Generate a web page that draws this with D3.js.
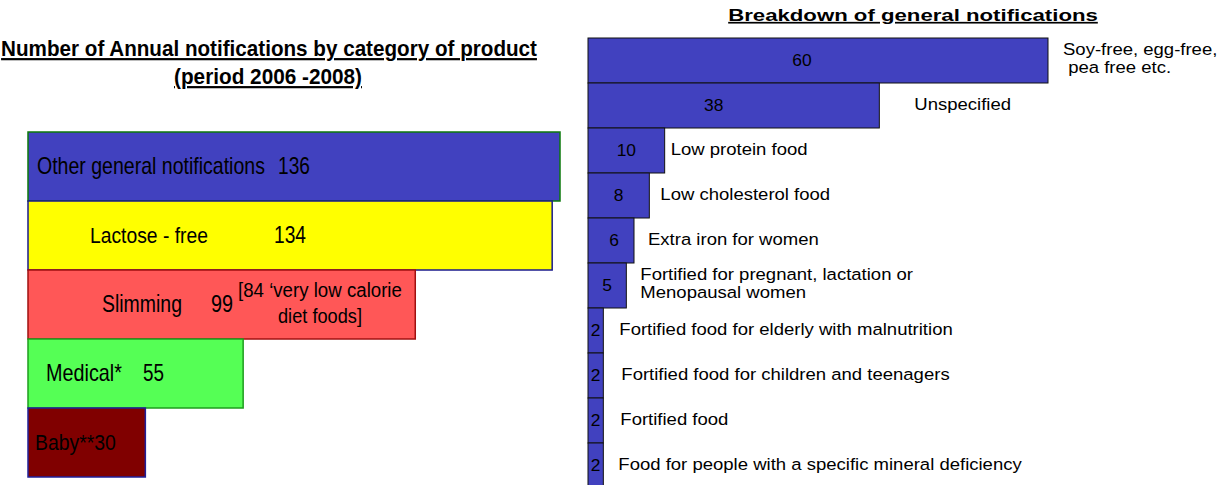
<!DOCTYPE html>
<html>
<head>
<meta charset="utf-8">
<script src="https://cdn.jsdelivr.net/npm/d3@7"></script>
<style>
  html, body { margin: 0; padding: 0; background: #fff; }
  svg { display: block; }
  text { font-family: "Liberation Sans", Arial, sans-serif; fill: #000; }
</style>
</head>
<body>
<script>
// ---------- data ----------
const leftCategories = ["Other general notifications", "Lactose - free", "Slimming", "Medical*", "Baby**"];
const leftValues = [136, 134, 99, 55, 30];
const slimmingNote = ["[84 \u2018very low calorie", "diet foods]"];

const rightCategories = [
  ["Soy-free, egg-free,", " pea free etc."],
  ["Unspecified"],
  ["Low protein food"],
  ["Low cholesterol food"],
  ["Extra iron for women"],
  ["Fortified for pregnant, lactation or", "Menopausal women"],
  ["Fortified food for elderly with malnutrition"],
  ["Fortified food for children and teenagers"],
  ["Fortified food"],
  ["Food for people with a specific mineral deficiency"]
];
const rightValues = [60, 38, 10, 8, 6, 5, 2, 2, 2, 2];

const leftTitle = ["Number of Annual notifications by category of product", "(period 2006 -2008)"];
const rightTitle = "Breakdown of general notifications";

// ---------- styles / layout ----------
const leftFills = ["#4141BF", "#FFFF00", "#FF5757", "#55FF55", "#800000"];
const leftStrokes = ["#0B7A0B", "#1A1A8C", "#A01010", "#1E9E1E", "#20209A"];
const leftNameX = [37, 90, 102, 46, 35];
const leftNameW = [228, 118, 80, 76, 81];   // last one: name and value together
const leftValX = [278, 274, 211, 143, null];
const leftValW = [32, 32, 22, 21, null];
const rightLabelGap = [15, 35, 6, 11, 14, 14, 16, 18, 17, 15];
const rightValueShift = [-16, -20, 0, 0, 3, 0, 0, 0, 0, 0];
const STRETCH = 1.09;

const W = 1220, H = 485;
const svg = d3.select("body").append("svg").attr("width", W).attr("height", H);

// narrow text: horizontally scaled to a target width
function narrowText(g, str, x, y, w, size, weight, anchor) {
  const t = g.append("text")
    .attr("font-size", size)
    .attr("font-weight", weight || "normal")
    .attr("text-anchor", anchor || "start")
    .text(str);
  const natural = t.node().getComputedTextLength();
  const s = natural > 0 ? w / natural : 1;
  t.attr("transform", `translate(${x},${y}) scale(${s},1)`);
  return t;
}

// ---------- left chart ----------
const xL = d3.scaleLinear().domain([0, d3.max(leftValues)]).range([28, 560]);
const yL = d3.scaleBand().domain(leftCategories).range([132, 477]).padding(0);

const gL = svg.append("g");
gL.selectAll("rect").data(leftCategories).join("rect")
  .attr("x", xL(0))
  .attr("y", d => yL(d))
  .attr("width", (d, i) => xL(leftValues[i]) - xL(0))
  .attr("height", yL.bandwidth())
  .attr("fill", (d, i) => leftFills[i])
  .attr("stroke", (d, i) => leftStrokes[i])
  .attr("stroke-width", 1.5);

leftCategories.forEach((d, i) => {
  const by = yL(d) + yL.bandwidth() / 2 + 7;
  if (leftValX[i] === null) {
    narrowText(gL, d + leftValues[i], leftNameX[i], by, leftNameW[i], 23);
  } else {
    narrowText(gL, d, leftNameX[i], by, leftNameW[i], 23);
    narrowText(gL, String(leftValues[i]), leftValX[i], by, leftValW[i], 23);
  }
});

// slimming note
const slimY = yL("Slimming") + yL.bandwidth() / 2;
narrowText(gL, slimmingNote[0], 238, slimY - 8, 164, 21);
narrowText(gL, slimmingNote[1], 278, slimY + 18, 84, 21);

// left title
narrowText(svg, leftTitle[0], 269, 56, 536, 22, "bold", "middle").attr("text-decoration", "underline");
narrowText(svg, leftTitle[1], 268, 84, 188, 22, "bold", "middle").attr("text-decoration", "underline");

// ---------- right chart ----------
const rKeys = rightCategories.map((d, i) => i);
const xR = d3.scaleLinear().domain([0, d3.max(rightValues)]).range([588, 1048]);
const yR = d3.scaleBand().domain(rKeys).range([38, 488]).padding(0);

const gR = svg.append("g");
gR.selectAll("rect").data(rKeys).join("rect")
  .attr("x", xR(0))
  .attr("y", i => yR(i))
  .attr("width", i => xR(rightValues[i]) - xR(0))
  .attr("height", yR.bandwidth())
  .attr("fill", "#4141BF")
  .attr("stroke", "#111")
  .attr("stroke-width", 1);

gR.selectAll("text.val").data(rKeys).join("text")
  .attr("class", "val")
  .attr("transform", i => `translate(${(xR(0) + xR(rightValues[i])) / 2 + rightValueShift[i]},${yR(i) + yR.bandwidth() / 2 + 5}) scale(${STRETCH},1)`)
  .attr("text-anchor", "middle")
  .attr("font-size", 16)
  .text(i => rightValues[i]);

gR.selectAll("text.rlbl").data(rKeys).join("text")
  .attr("class", "rlbl")
  .attr("font-size", 17)
  .attr("transform", i => `translate(${xR(rightValues[i]) + rightLabelGap[i]},${yR(i) + yR.bandwidth() / 2}) scale(${STRETCH},1)`)
  .each(function (i) {
    const lines = rightCategories[i];
    const t = d3.select(this);
    if (lines.length === 1) {
      t.append("tspan").attr("x", 0).attr("y", 4.5).text(lines[0]);
    } else {
      t.append("tspan").attr("x", 0).attr("y", -5.5).text(lines[0]);
      t.append("tspan").attr("x", 0).attr("y", 12.5).text(lines[1]);
    }
  });

narrowText(svg, rightTitle, 913, 21, 370, 17, "bold", "middle").attr("text-decoration", "underline");
</script>
</body>
</html>
